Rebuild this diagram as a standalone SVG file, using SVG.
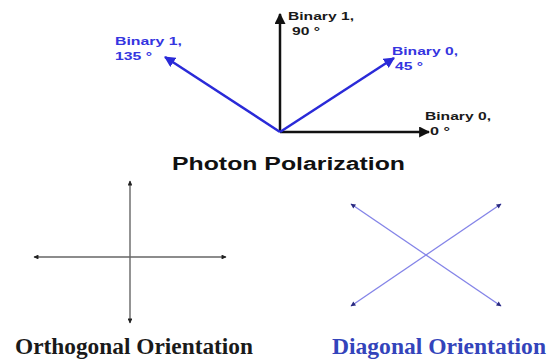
<svg xmlns="http://www.w3.org/2000/svg" width="555" height="363" viewBox="0 0 555 363">
<style>
.lbl{font-family:"Liberation Sans",Arial,sans-serif;font-weight:bold;font-size:11.5px}
.blk{fill:#1a1a1a}
.blu{fill:#3535e0}
.title{font-family:"Liberation Sans",Arial,sans-serif;font-weight:bold;font-size:18px;fill:#111}
.serif{font-family:"Liberation Serif","Times New Roman",serif;font-weight:bold;font-size:24px}
.ka{stroke:#111;stroke-width:2.5;fill:none}
.ba{stroke:#2a2ad8;stroke-width:2.5;fill:none}
.ort{stroke:#666;stroke-width:1.4;fill:none}
.dia{stroke:#8585e8;stroke-width:1.4;fill:none}
</style>
<defs>
<marker id="ahK" viewBox="0 0 10 10" refX="9" refY="5" markerWidth="4.4" markerHeight="4.4" orient="auto" markerUnits="strokeWidth"><path d="M0,0 L10,5 L0,10 z" fill="#111"/></marker>
<marker id="ahB" viewBox="0 0 10 10" refX="9" refY="5" markerWidth="4.4" markerHeight="4.4" orient="auto" markerUnits="strokeWidth"><path d="M0,0 L10,5 L0,10 z" fill="#2a2ad8"/></marker>
<marker id="ahO" viewBox="0 0 10 10" refX="9" refY="5" markerWidth="4" markerHeight="3.5" orient="auto" markerUnits="strokeWidth"><path d="M0,0 L10,5 L0,10 z" fill="#222"/></marker>
<marker id="ahD" viewBox="0 0 10 10" refX="9" refY="5" markerWidth="4" markerHeight="3.5" orient="auto" markerUnits="strokeWidth"><path d="M0,0 L10,5 L0,10 z" fill="#2a2a80"/></marker>
</defs>
<g id="connectors">
<line class="ka" x1="280" y1="132" x2="280" y2="14" marker-end="url(#ahK)"/>
<line class="ka" x1="280" y1="132" x2="429" y2="132" marker-end="url(#ahK)"/>
<line class="ba" x1="280" y1="132" x2="165" y2="57" marker-end="url(#ahB)"/>
<line class="ba" x1="280" y1="132" x2="394" y2="58" marker-end="url(#ahB)"/>
<line class="ort" x1="130" y1="257" x2="130" y2="181" marker-end="url(#ahO)"/>
<line class="ort" x1="130" y1="257" x2="130" y2="323" marker-end="url(#ahO)"/>
<line class="ort" x1="130" y1="257" x2="34" y2="257" marker-end="url(#ahO)"/>
<line class="ort" x1="130" y1="257" x2="226" y2="257" marker-end="url(#ahO)"/>
<line class="dia" x1="426" y1="255" x2="351" y2="204" marker-end="url(#ahD)"/>
<line class="dia" x1="426" y1="255" x2="501" y2="306" marker-end="url(#ahD)"/>
<line class="dia" x1="426" y1="255" x2="351" y2="306" marker-end="url(#ahD)"/>
<line class="dia" x1="426" y1="255" x2="501" y2="204" marker-end="url(#ahD)"/>
</g>
<g id="label-90">
<text class="lbl blk" x="288" y="20" textLength="66" lengthAdjust="spacingAndGlyphs">Binary 1,</text>
<text class="lbl blk" x="292" y="35" textLength="28" lengthAdjust="spacingAndGlyphs">90 °</text>
</g>
<g id="label-135">
<text class="lbl blu" x="115" y="45" textLength="67" lengthAdjust="spacingAndGlyphs">Binary 1,</text>
<text class="lbl blu" x="115" y="60" textLength="37" lengthAdjust="spacingAndGlyphs">135 °</text>
</g>
<g id="label-45">
<text class="lbl blu" x="392" y="55" textLength="66" lengthAdjust="spacingAndGlyphs">Binary 0,</text>
<text class="lbl blu" x="395" y="70" textLength="28" lengthAdjust="spacingAndGlyphs">45 °</text>
</g>
<g id="label-0">
<text class="lbl blk" x="425" y="120" textLength="66" lengthAdjust="spacingAndGlyphs">Binary 0,</text>
<text class="lbl blk" x="430" y="135" textLength="20" lengthAdjust="spacingAndGlyphs">0 °</text>
</g>
<g id="title-photon">
<text class="title" x="172" y="170" textLength="233" lengthAdjust="spacingAndGlyphs">Photon Polarization</text>
</g>
<g id="title-orthogonal">
<text class="serif" x="15" y="354" fill="#1a1a1a" textLength="238" lengthAdjust="spacingAndGlyphs">Orthogonal Orientation</text>
</g>
<g id="title-diagonal">
<text class="serif" x="332" y="354" fill="#3344bb" textLength="214" lengthAdjust="spacingAndGlyphs">Diagonal Orientation</text>
</g>
</svg>
